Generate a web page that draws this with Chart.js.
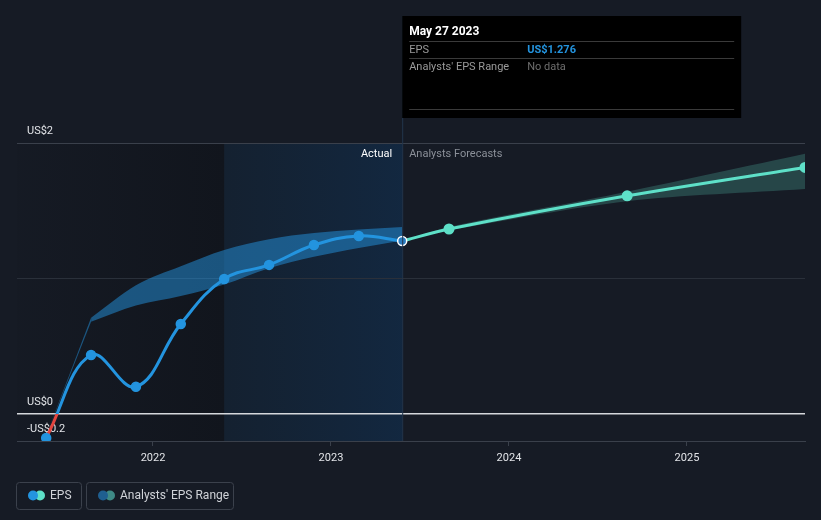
<!DOCTYPE html>
<html>
<head>
<meta charset="utf-8">
<script src="https://cdn.jsdelivr.net/npm/chart.js@4.4.0/dist/chart.umd.min.js"></script>
<style>
    html, body { margin: 0; padding: 0; background: #161b25; }
    #wrap { width: 821px; height: 520px; position: relative; }
</style>
</head>
<body>
<div id="wrap"><canvas id="eps-chart"></canvas></div>
<script>
// actual EPS, quarterly
const actualDates = ['2021-05-27', '2021-08-27', '2021-11-27', '2022-02-27', '2022-05-27', '2022-08-27', '2022-11-27', '2023-02-27', '2023-05-27'];
const actualEps = [-0.177, 0.435, 0.20, 0.664, 0.996, 1.10, 1.247, 1.314, 1.276];
const pastRangeHigh = [-0.16, 0.71, 0.95, 1.09, 1.21, 1.29, 1.335, 1.362, 1.38];
const pastRangeLow = [-0.16, 0.68, 0.80, 0.87, 0.955, 1.075, 1.16, 1.225, 1.28];

// analysts forecasts
const forecastDates = ['2023-05-27', '2023-08-31', '2024-08-31', '2025-08-31'];
const forecastEps = [1.276, 1.365, 1.61, 1.82];
const forecastHigh = [1.276, 1.38, 1.64, 1.92];
const forecastLow = [1.276, 1.355, 1.57, 1.66];

const yTicks = [-0.2, 0, 1, 2];
const yTickLabels = { '-0.2': '-US$0.2', '0': 'US$0', '2': 'US$2' };
const xTicks = [2022, 2023, 2024, 2025];
const highlightStart = '2022-05-27';
const highlightEnd = '2023-05-27';

const BLUE = '#2394df';
const TEAL = '#5ee0c8';
const RED = '#e3453f';
const RANGE_BLUE = 'rgba(35,148,223,0.5)';
const RANGE_TEAL = 'rgba(94,224,200,0.22)';
const FONT = 'Roboto, "Open Sans", sans-serif';

function toYear(s) {
    const d = new Date(s + 'T00:00:00Z');
    const y = d.getUTCFullYear();
    const start = Date.UTC(y, 0, 1);
    const end = Date.UTC(y + 1, 0, 1);
    return y + (d.getTime() - start) / (end - start);
}

function points(dates, values) {
    return dates.map((d, i) => ({ x: toYear(d), y: values[i] }));
}

function actualLineColor(ctx) {
    const chart = ctx.chart;
    const area = chart.chartArea;
    if (!area) {
        return BLUE;
    }
    const zero = chart.scales.y.getPixelForValue(0);
    const stop = Math.min(1, Math.max(0, (zero - area.top) / (area.bottom - area.top)));
    const g = chart.ctx.createLinearGradient(0, area.top, 0, area.bottom);
    g.addColorStop(0, BLUE);
    g.addColorStop(stop, BLUE);
    g.addColorStop(stop, RED);
    g.addColorStop(1, RED);
    return g;
}

const backdropPlugin = {
    id: 'backdrop',
    beforeDraw(chart) {
        const { ctx, chartArea: a, scales } = chart;
        ctx.save();
        ctx.fillStyle = '#161b25';
        ctx.fillRect(0, 0, chart.width, chart.height);
        const hs = scales.x.getPixelForValue(toYear(highlightStart));
        const he = scales.x.getPixelForValue(toYear(highlightEnd));
        // darker past area
        let g = ctx.createLinearGradient(a.left, 0, hs, 0);
        g.addColorStop(0, 'rgba(8,10,14,0.05)');
        g.addColorStop(1, 'rgba(8,10,14,0.35)');
        ctx.fillStyle = g;
        ctx.fillRect(a.left, a.top, hs - a.left, a.bottom - a.top);
        // last year highlight
        g = ctx.createLinearGradient(hs, 0, he, 0);
        g.addColorStop(0, 'rgba(18,40,62,0.45)');
        g.addColorStop(1, 'rgba(16,48,82,0.6)');
        ctx.fillStyle = g;
        ctx.fillRect(hs, a.top, he - hs, a.bottom - a.top);
        ctx.restore();
    },
    afterDraw(chart) {
        const { ctx, chartArea: a, scales } = chart;
        const he = scales.x.getPixelForValue(toYear(highlightEnd));
        ctx.save();
        // hover line
        ctx.strokeStyle = '#22364c';
        ctx.lineWidth = 1;
        ctx.beginPath();
        ctx.moveTo(he + 0.5, 16);
        ctx.lineTo(he + 0.5, a.bottom);
        ctx.stroke();

        ctx.font = '11px ' + FONT;
        ctx.textBaseline = 'middle';
        ctx.textAlign = 'right';
        ctx.fillStyle = '#ffffff';
        ctx.fillText('Actual', he - 10, a.top + 11);
        ctx.textAlign = 'left';
        ctx.fillStyle = '#8b9099';
        ctx.fillText('Analysts Forecasts', he + 7, a.top + 11);

        // tooltip box
        const bx = he, by = 16, bw = 339, bh = 102;
        ctx.fillStyle = '#000000';
        ctx.fillRect(bx, by, bw, bh);
        ctx.fillStyle = '#ffffff';
        ctx.font = 'bold 12px ' + FONT;
        ctx.fillText('May 27 2023', bx + 7, by + 16);
        ctx.strokeStyle = '#3a3a3a';
        [41, 58, 109].forEach((ly) => {
            ctx.beginPath();
            ctx.moveTo(bx + 7, ly + 0.5);
            ctx.lineTo(bx + bw - 7, ly + 0.5);
            ctx.stroke();
        });
        ctx.font = '11px ' + FONT;
        ctx.fillStyle = '#9a9a9a';
        ctx.fillText('EPS', bx + 7, 50);
        ctx.fillText("Analysts' EPS Range", bx + 7, 67);
        ctx.font = 'bold 11px ' + FONT;
        ctx.fillStyle = BLUE;
        ctx.fillText('US$1.276', bx + 125, 50);
        ctx.font = '11px ' + FONT;
        ctx.fillStyle = '#6e6e6e';
        ctx.fillText('No data', bx + 125, 67);

        // legend
        const drawBox = (x, w) => {
            ctx.strokeStyle = '#3b414c';
            ctx.lineWidth = 1;
            ctx.beginPath();
            ctx.roundRect(x + 0.5, 482.5, w, 27, 3);
            ctx.stroke();
        };
        const dots = (x, c1, c2) => {
            ctx.fillStyle = c2;
            ctx.beginPath();
            ctx.arc(x + 7, 495.5, 5, 0, Math.PI * 2);
            ctx.fill();
            ctx.fillStyle = c1;
            ctx.beginPath();
            ctx.arc(x, 495.5, 5, 0, Math.PI * 2);
            ctx.fill();
        };
        drawBox(16, 65);
        dots(33, BLUE, TEAL);
        drawBox(86, 147);
        dots(103, '#1f5f90', '#3e8a86');
        ctx.fillStyle = '#d0d3d8';
        ctx.font = '12px ' + FONT;
        ctx.fillText('EPS', 50, 496);
        ctx.fillText("Analysts' EPS Range", 120, 496);
        ctx.restore();
    }
};

const actualPointBg = actualEps.map((v, i) => i === actualEps.length - 1 ? '#2b7cbf' : BLUE);
const actualPointBorder = actualEps.map((v, i) => i === actualEps.length - 1 ? '#ffffff' : BLUE);

function rangeEdge(label, data, fill, color, curve) {
    return {
        label,
        data,
        borderWidth: 0,
        pointRadius: 0,
        cubicInterpolationMode: curve ? 'monotone' : 'default',
        tension: curve ? 0.4 : 0,
        fill,
        backgroundColor: color,
    };
}

// the first stretch of the past range is a straight sliver, the rest is smooth
const pastHighPts = points(actualDates, pastRangeHigh);
const pastLowPts = points(actualDates, pastRangeLow);

const datasets = [
    {
        label: 'EPS',
        data: points(actualDates, actualEps),
        borderColor: actualLineColor,
        borderWidth: 3,
        tension: 0.4,
        pointRadius: 4.5,
        pointBackgroundColor: actualPointBg,
        pointBorderColor: actualPointBorder,
        pointBorderWidth: 1.5,
        fill: false,
    },
    {
        label: 'EPS Forecast',
        data: points(forecastDates, forecastEps),
        borderColor: TEAL,
        borderWidth: 3,
        tension: 0.3,
        pointRadius: forecastEps.map((v, i) => i === 0 ? 0 : 4),
        pointBackgroundColor: TEAL,
        pointBorderColor: TEAL,
        fill: false,
    },
    rangeEdge('Past range high', pastHighPts.slice(1), false, RANGE_BLUE, true),
    rangeEdge('Past range low', pastLowPts.slice(1), '-1', RANGE_BLUE, true),
    rangeEdge('Past range high start', pastHighPts.slice(0, 2), false, RANGE_BLUE, false),
    rangeEdge('Past range low start', pastLowPts.slice(0, 2), '-1', RANGE_BLUE, false),
    {
        label: 'Forecast range high',
        data: points(forecastDates, forecastHigh),
        borderWidth: 0,
        pointRadius: 0,
        tension: 0.3,
        fill: false,
    },
    {
        label: 'Forecast range low',
        data: points(forecastDates, forecastLow),
        borderWidth: 0,
        pointRadius: 0,
        tension: 0.3,
        fill: '-1',
        backgroundColor: RANGE_TEAL,
    },
];

const gridColor = (ctx) => {
    const v = ctx.tick ? ctx.tick.value : null;
    if (v === 0) return '#d5d8dc';
    if (v === 1) return '#2a303a';
    return '#3a404b';
};

new Chart(document.getElementById('eps-chart'), {
    type: 'line',
    data: { datasets },
    plugins: [backdropPlugin],
    options: {
        responsive: true,
        maintainAspectRatio: false,
        animation: false,
        layout: {
            padding: { left: 17, right: 16, top: 143, bottom: 0 },
        },
        scales: {
            x: {
                type: 'linear',
                min: 2021.236,
                max: toYear(forecastDates[forecastDates.length - 1]),
                afterBuildTicks: (scale) => {
                    scale.ticks = xTicks.map((v) => ({ value: v }));
                },
                afterFit: (scale) => {
                    scale.height = 79;
                },
                grid: {
                    drawOnChartArea: false,
                    drawTicks: true,
                    tickLength: 5,
                    color: '#3a404b',
                },
                border: { display: true, color: '#3a404b' },
                ticks: {
                    color: '#e2e4e8',
                    font: { family: FONT, size: 11 },
                    padding: 6,
                    maxRotation: 0,
                    callback: (v) => String(v),
                },
            },
            y: {
                min: -0.2,
                max: 2,
                afterBuildTicks: (scale) => {
                    scale.ticks = yTicks.map((v) => ({ value: v }));
                },
                afterFit: (scale) => {
                    scale.width = 0;
                },
                grid: {
                    drawTicks: false,
                    color: gridColor,
                    lineWidth: (ctx) => (ctx.tick && ctx.tick.value === 0 ? 1.5 : 1),
                },
                border: { display: false },
                ticks: {
                    mirror: true,
                    padding: 10,
                    labelOffset: -12,
                    color: '#e2e4e8',
                    font: { family: FONT, size: 11 },
                    callback: (v) => yTickLabels[String(v)] || '',
                },
            },
        },
        plugins: {
            legend: { display: false },
            tooltip: { enabled: false },
        },
    },
});
</script>
</body>
</html>
